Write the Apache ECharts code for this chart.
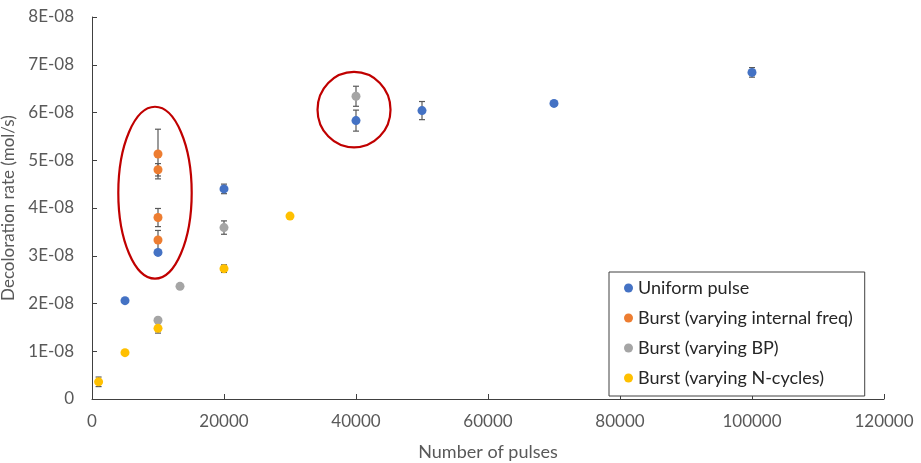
<!DOCTYPE html>
<html>
<head>
<meta charset="utf-8">
<script src="https://cdn.jsdelivr.net/npm/echarts@6/dist/echarts.min.js"></script>
<style>
html,body{margin:0;padding:0;background:#fff;}
#main{width:921px;height:463px;}
</style>
</head>
<body>
<div id="main"></div>
<script>
// Values of decoloration rate are in units of 1E-08 mol/s
const seriesNames = ['Uniform pulse', 'Burst (varying internal freq)', 'Burst (varying BP)', 'Burst (varying N-cycles)'];
const seriesColors = ['#4472C4', '#ED7D31', '#A5A5A5', '#FFC000'];

const uniformX = [5000, 10000, 20000, 40000, 50000, 70000, 100000];
const uniformY = [2.06, 3.07, 4.40, 5.83, 6.04, 6.19, 6.84];
const uniformErr = [0, 0.05, 0.10, 0.22, 0.19, 0, 0.10];

const freqX = [10000, 10000, 10000, 10000];
const freqY = [5.13, 4.80, 3.80, 3.33];
const freqErr = [0.52, 0.13, 0.19, 0.20];

const bpX = [10000, 13333, 20000, 40000];
const bpY = [1.65, 2.36, 3.59, 6.34];
const bpErr = [0.05, 0, 0.14, 0.21];

const ncX = [1000, 5000, 10000, 20000, 30000];
const ncY = [0.36, 0.97, 1.48, 2.73, 3.83];
const ncErr = [0.10, 0, 0.10, 0.08, 0];

const xTicks = [0, 20000, 40000, 60000, 80000, 100000, 120000];
const yTicks = [0, 1, 2, 3, 4, 5, 6, 7, 8];

// Highlight ellipses (data units): [cx, cy, rx, ry]
const highlightEllipses = [
  [9545, 4.32, 5560, 1.80],
  [39700, 6.06, 5530, 0.79]
];

const xs = [uniformX, freqX, bpX, ncX];
const ys = [uniformY, freqY, bpY, ncY];
const errs = [uniformErr, freqErr, bpErr, ncErr];

const FONT = 'Lato';
const TEXT = '#595959';
const AXIS = '#404040';

const series = [];
for (let i = 0; i < 4; i++) {
  series.push({
    type: 'custom',
    name: seriesNames[i] + ' err',
    z: 2,
    silent: true,
    data: xs[i].map((x, k) => [x, ys[i][k], errs[i][k]]),
    renderItem: function (params, api) {
      const x = api.value(0), y = api.value(1), e = api.value(2);
      if (!e) return null;
      const top = api.coord([x, y + e]);
      const bot = api.coord([x, y - e]);
      const hw = 3;
      const st = { stroke: '#595959', lineWidth: 1.2 };
      return {
        type: 'group',
        children: [
          { type: 'line', shape: { x1: top[0], y1: top[1], x2: bot[0], y2: bot[1] }, style: st },
          { type: 'line', shape: { x1: top[0] - hw, y1: top[1], x2: top[0] + hw, y2: top[1] }, style: st },
          { type: 'line', shape: { x1: bot[0] - hw, y1: bot[1], x2: bot[0] + hw, y2: bot[1] }, style: st }
        ]
      };
    }
  });
}
for (let i = 0; i < 4; i++) {
  series.push({
    type: 'scatter',
    name: seriesNames[i],
    z: 3,
    symbol: 'circle',
    symbolSize: 9,
    itemStyle: { color: seriesColors[i], opacity: 1 },
    data: xs[i].map((x, k) => [x, ys[i][k]])
  });
}

const option = {
  animation: false,
  backgroundColor: '#fff',
  textStyle: { fontFamily: FONT },
  grid: { left: 92, right: 37, top: 17, bottom: 64, containLabel: false, outerBoundsMode: 'none' },
  legend: {
    data: seriesNames.map((n, i) => ({ name: n, icon: 'circle', itemStyle: { color: seriesColors[i] } })),
    orient: 'vertical',
    left: 609,
    top: 272,
    itemWidth: 9,
    itemHeight: 9,
    itemGap: 12,
    padding: [7, 12, 9, 15],
    borderColor: '#404040',
    borderWidth: 1,
    backgroundColor: '#fff',
    textStyle: { color: '#262626', fontSize: 18, fontFamily: FONT },
    z: 20
  },
  xAxis: {
    type: 'value',
    min: xTicks[0],
    max: xTicks[xTicks.length - 1],
    interval: xTicks[1] - xTicks[0],
    name: 'Number of pulses',
    nameLocation: 'middle',
    nameGap: 44,
    nameTextStyle: { color: TEXT, fontSize: 18, fontFamily: FONT },
    axisLine: { show: true, lineStyle: { color: AXIS, width: 1 } },
    axisTick: { show: true, inside: true, length: 5, lineStyle: { color: AXIS } },
    splitLine: { show: false },
    axisLabel: {
      color: TEXT, fontSize: 17, fontFamily: FONT, margin: 14,
      formatter: function (v) { return String(Math.round(v)); }
    }
  },
  yAxis: {
    type: 'value',
    min: yTicks[0],
    max: yTicks[yTicks.length - 1],
    interval: yTicks[1] - yTicks[0],
    name: 'Decoloration rate (mol/s)',
    nameLocation: 'middle',
    nameGap: 70,
    nameTextStyle: { color: TEXT, fontSize: 17, fontFamily: FONT },
    axisLine: { show: true, lineStyle: { color: AXIS, width: 1 } },
    axisTick: { show: true, inside: true, length: 5, lineStyle: { color: AXIS } },
    splitLine: { show: false },
    axisLabel: {
      color: TEXT, fontSize: 17, fontFamily: FONT, margin: 18,
      formatter: function (v) { const n = Math.round(v); return n === 0 ? '0' : n + 'E-08'; }
    }
  },
  series: series
};

const chart = echarts.init(document.getElementById('main'), null, { renderer: 'canvas' });
chart.setOption(option);

const graphics = highlightEllipses.map(function (el) {
  const c = chart.convertToPixel({ gridIndex: 0 }, [el[0], el[1]]);
  const e = chart.convertToPixel({ gridIndex: 0 }, [el[0] + el[2], el[1] + el[3]]);
  return {
    type: 'ellipse',
    shape: { cx: c[0], cy: c[1], rx: Math.abs(e[0] - c[0]), ry: Math.abs(e[1] - c[1]) },
    style: { fill: null, stroke: '#C00000', lineWidth: 2.2 },
    z: 10,
    silent: true
  };
});
chart.setOption({ graphic: graphics });
</script>
</body>
</html>
